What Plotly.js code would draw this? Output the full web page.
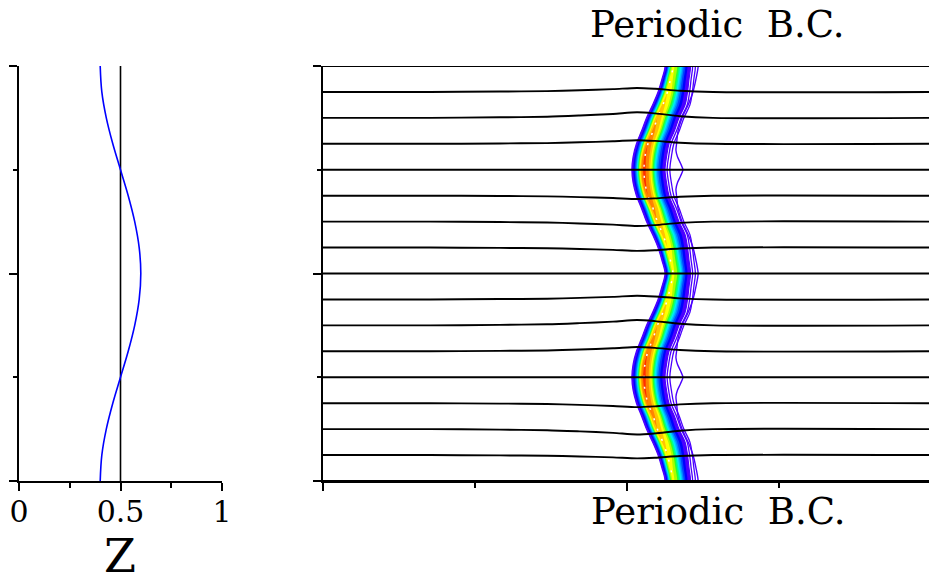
<!DOCTYPE html>
<html>
<head>
<meta charset="utf-8">
<script src="https://cdn.plot.ly/plotly-3.0.1.min.js"></script>
<style>
html,body{margin:0;padding:0;background:#fff;overflow:hidden;}
#chart{width:929px;height:582px;}
</style>
</head>
<body>
<div id="chart"></div>
<script>
// ---------- left panel: interface position profile ----------
const profileY = [0, 0.0625, 0.125, 0.1875, 0.25, 0.3125, 0.375, 0.4375, 0.5, 0.5625, 0.625, 0.6875, 0.75, 0.8125, 0.875, 0.9375, 1];
const profileZ = [0.400, 0.408, 0.430, 0.462, 0.500, 0.538, 0.570, 0.592, 0.600, 0.592, 0.570, 0.538, 0.500, 0.462, 0.430, 0.408, 0.400];
const refLineZ = [0.5, 0.5];
const refLineY = [0, 1];
const leftTickVals = [0, 0.5, 1];
const leftTickText = ['0', '0.5', '1'];

// ---------- right panel: front (filled contour levels) ----------
const frontY = [-0.03125, 0, 0.03125, 0.0625, 0.09375, 0.125, 0.15625, 0.1875, 0.21875, 0.25, 0.28125, 0.3125, 0.34375, 0.375, 0.40625, 0.4375, 0.46875, 0.5, 0.53125, 0.5625, 0.59375, 0.625, 0.65625, 0.6875, 0.71875, 0.75, 0.78125, 0.8125, 0.84375, 0.875, 0.90625, 0.9375, 0.96875, 1, 1.03125];
const frontLeft = [1.115, 1.125, 1.115, 1.102, 1.084, 1.064, 1.048, 1.031, 1.020, 1.016, 1.020, 1.031, 1.048, 1.064, 1.084, 1.102, 1.115, 1.125, 1.115, 1.102, 1.084, 1.064, 1.048, 1.031, 1.020, 1.016, 1.020, 1.031, 1.048, 1.064, 1.084, 1.102, 1.115, 1.125, 1.115];
const frontPeak = [1.143, 1.151, 1.143, 1.133, 1.118, 1.100, 1.086, 1.069, 1.059, 1.056, 1.059, 1.069, 1.086, 1.100, 1.118, 1.133, 1.143, 1.151, 1.143, 1.133, 1.118, 1.100, 1.086, 1.069, 1.059, 1.056, 1.059, 1.069, 1.086, 1.100, 1.118, 1.133, 1.143, 1.151, 1.143];
const frontRight = [1.204, 1.209, 1.204, 1.199, 1.191, 1.171, 1.156, 1.138, 1.130, 1.125, 1.130, 1.138, 1.156, 1.171, 1.191, 1.199, 1.204, 1.209, 1.204, 1.199, 1.191, 1.171, 1.156, 1.138, 1.130, 1.125, 1.130, 1.138, 1.156, 1.171, 1.191, 1.199, 1.204, 1.209, 1.204];
const frontPeakLevel = [9.6, 9.4, 9.6, 10, 10.5, 11, 11.5, 12, 12.3, 12.5, 12.3, 12, 11.5, 11, 10.5, 10, 9.6, 9.4, 9.6, 10, 10.5, 11, 11.5, 12, 12.3, 12.5, 12.3, 12, 11.5, 11, 10.5, 10, 9.6, 9.4, 9.6];
// contour level colours (outer -> inner) and the relative position of a level between edge and peak
const levelColors = ['#4a00ff', '#0000ff', '#0044ff', '#0088ff', '#00c4ff', '#00f0f0', '#00ff94', '#2cff2c', '#a8ff00', '#ffff00', '#ffc400', '#ff8400', '#ff3000'];
const levelRel = [0, 0.1, 0.2, 0.3, 0.4, 0.5, 0.6, 0.7, 0.8, 0.9, 1.0];
const levelPos = [0, 0.16, 0.28, 0.37, 0.44, 0.5, 0.56, 0.63, 0.70, 0.80, 1.0];
const outlineOffsets = [0.007, 0.016];

// outer low-level contour with the kink
const outerY = [-0.03125, 0, 0.03125, 0.0625, 0.09375, 0.125, 0.15625, 0.1875, 0.2031, 0.21875, 0.2344, 0.25, 0.2656, 0.28125, 0.2969, 0.3125, 0.34375, 0.375, 0.40625, 0.4375, 0.46875, 0.5, 0.53125, 0.5625, 0.59375, 0.625, 0.65625, 0.6875, 0.7031, 0.71875, 0.7344, 0.75, 0.7656, 0.78125, 0.7969, 0.8125, 0.84375, 0.875, 0.90625, 0.9375, 0.96875, 1, 1.03125];
const outerX = [1.227, 1.234, 1.227, 1.217, 1.201, 1.181, 1.168, 1.163, 1.161, 1.166, 1.176, 1.184, 1.176, 1.166, 1.161, 1.163, 1.168, 1.181, 1.201, 1.217, 1.227, 1.234, 1.227, 1.217, 1.201, 1.181, 1.168, 1.163, 1.161, 1.166, 1.176, 1.184, 1.176, 1.166, 1.161, 1.163, 1.168, 1.181, 1.201, 1.217, 1.227, 1.234, 1.227];

// streamlines
const streamY0 = [0, 0.0625, 0.125, 0.1875, 0.25, 0.3125, 0.375, 0.4375, 0.5, 0.5625, 0.625, 0.6875, 0.75, 0.8125, 0.875, 0.9375, 1];
const streamDev = [0, -0.008, -0.0128, -0.0096, 0, 0.0104, 0.0128, 0.0089, 0, -0.008, -0.0104, -0.008, 0, 0.0087, 0.0135, 0.0096, 0];
const streamX = [0, 0.352, 0.582, 0.737, 0.845, 0.954, 1.033, 1.092, 1.174, 1.283, 2.0];
const streamShape = [0, 0, 0.1, 0.2, 0.42, 0.7, 1.0, 0.8, 0.3, 0, 0];

const rightMajorX = [0, 1, 2];
const rightMinorX = [0.5, 1.5];
const yMajor = [0, 0.5, 1];
const yMinor = [0.25, 0.75];

const topLabel = 'Periodic\u00a0 B.C.';
const bottomLabel = 'Periodic\u00a0 B.C.';
const leftTitle = 'Z';

function levelFraction(r) {
  if (r >= 1) return 1;
  for (let i = 1; i < levelRel.length; i++) {
    if (r <= levelRel[i]) {
      const a = (r - levelRel[i-1]) / (levelRel[i] - levelRel[i-1]);
      return levelPos[i-1] + a * (levelPos[i] - levelPos[i-1]);
    }
  }
  return 1;
}

const traces = [];
// left panel
traces.push({type:'scatter', mode:'lines', x: refLineZ, y: refLineY, xaxis:'x', yaxis:'y',
  line:{color:'#000', width:1.6}, hoverinfo:'skip'});
traces.push({type:'scatter', mode:'lines', x: profileZ, y: profileY, xaxis:'x', yaxis:'y',
  line:{color:'#0000ff', width:1.6, shape:'spline'}, hoverinfo:'skip'});

// band fills
for (let t = 0; t < levelColors.length; t++) {
  const xs = [], ys = [];
  for (let i = 0; i < frontY.length; i++) {
    const s = levelFraction(t / frontPeakLevel[i]);
    xs.push(frontLeft[i] + (frontPeak[i] - frontLeft[i]) * s);
    ys.push(frontY[i]);
  }
  for (let i = frontY.length - 1; i >= 0; i--) {
    const s = levelFraction(t / frontPeakLevel[i]);
    xs.push(frontRight[i] - (frontRight[i] - frontPeak[i]) * s);
    ys.push(frontY[i]);
  }
  traces.push({type:'scatter', mode:'lines', x: xs, y: ys, xaxis:'x2', yaxis:'y2',
    fill:'toself', fillcolor: levelColors[t], line:{width:0, shape:'spline', smoothing:0.8},
    hoverinfo:'skip'});
}
// contour outlines
traces.push({type:'scatter', mode:'lines', x: frontLeft, y: frontY, xaxis:'x2', yaxis:'y2',
  line:{color:'#4a00ff', width:1.2, shape:'spline'}, hoverinfo:'skip'});
traces.push({type:'scatter', mode:'lines', x: frontRight, y: frontY, xaxis:'x2', yaxis:'y2',
  line:{color:'#4a00ff', width:1.2, shape:'spline'}, hoverinfo:'skip'});
outlineOffsets.forEach(off => {
  traces.push({type:'scatter', mode:'lines', x: frontRight.map(v => v + off), y: frontY, xaxis:'x2', yaxis:'y2',
    line:{color:'#4a00ff', width:1.3, shape:'spline'}, hoverinfo:'skip'});
});
traces.push({type:'scatter', mode:'lines', x: outerX, y: outerY, xaxis:'x2', yaxis:'y2',
  line:{color:'#4a00ff', width:1.4, shape:'spline', smoothing:0.7}, hoverinfo:'skip'});
// peak (white dashed)
traces.push({type:'scatter', mode:'lines', x: frontPeak, y: frontY, xaxis:'x2', yaxis:'y2',
  line:{color:'#ffffff', width:1.5, dash:'2px,9px', shape:'spline'}, hoverinfo:'skip'});
// streamlines
for (let j = 0; j < streamY0.length; j++) {
  traces.push({type:'scatter', mode:'lines', x: streamX,
    y: streamShape.map(s => streamY0[j] + streamDev[j] * s), xaxis:'x2', yaxis:'y2',
    line:{color:'#000', width:1.9, shape:'spline', smoothing:0.8}, hoverinfo:'skip'});
}

const W = 929, H = 582;
const px2x = p => p / W;
const px2y = p => (H - p) / H;
const yDom = [px2y(481), px2y(66)];
const serif = 'DejaVu Serif, serif';

const axisCommon = {
  showgrid:false, zeroline:false, showline:true, linecolor:'#000', linewidth:2,
  ticks:'outside', ticklen:8, tickwidth:2, tickcolor:'#000', fixedrange:true
};

const layout = {
  width: W, height: H,
  margin:{l:0, r:0, t:0, b:0},
  paper_bgcolor:'#fff', plot_bgcolor:'rgba(0,0,0,0)',
  showlegend:false,
  xaxis: Object.assign({}, axisCommon, {
    domain:[px2x(19), px2x(222)], range:[0, 1], anchor:'y',
    tickmode:'array', tickvals: leftTickVals, ticktext: leftTickText,
    tickfont:{family: serif, size:30, color:'#000'},
    ticklabelstandoff:-5,
    minor:{tickvals:[0.25, 0.75], ticklen:5, tickwidth:2, tickcolor:'#000', ticks:'outside'}
  }),
  yaxis: Object.assign({}, axisCommon, {
    domain: yDom, range:[0, 1], anchor:'x',
    tickmode:'array', tickvals: yMajor, showticklabels:false,
    minor:{tickvals: yMinor, ticklen:4.5, tickwidth:2, tickcolor:'#000', ticks:'outside'}
  }),
  xaxis2: Object.assign({}, axisCommon, {
    domain:[px2x(323), 1], range:[0, 606/304], anchor:'y2',
    tickmode:'array', tickvals: rightMajorX, showticklabels:false,
    minor:{tickvals: rightMinorX, ticklen:5, tickwidth:2, tickcolor:'#000', ticks:'outside'}
  }),
  yaxis2: Object.assign({}, axisCommon, {
    domain: yDom, range:[0, 1], anchor:'x2',
    tickmode:'array', tickvals: yMajor, showticklabels:false,
    minor:{tickvals: yMinor, ticklen:4.5, tickwidth:2, tickcolor:'#000', ticks:'outside'}
  }),
  annotations:[
    {text: leftTitle, xref:'paper', yref:'paper', x: px2x(120), y: px2y(556), xanchor:'center', yanchor:'middle',
      showarrow:false, font:{family: serif, size:46, color:'#000'}},
    {text: topLabel, xref:'paper', yref:'paper', x: px2x(717), y: px2y(25), xanchor:'center', yanchor:'middle',
      showarrow:false, font:{family: serif, size:37, color:'#000'}},
    {text: bottomLabel, xref:'paper', yref:'paper', x: px2x(718), y: px2y(511), xanchor:'center', yanchor:'middle',
      showarrow:false, font:{family: serif, size:37, color:'#000'}}
  ]
};

Plotly.newPlot('chart', traces, layout, {staticPlot:true, displayModeBar:false});
</script>
</body>
</html>
